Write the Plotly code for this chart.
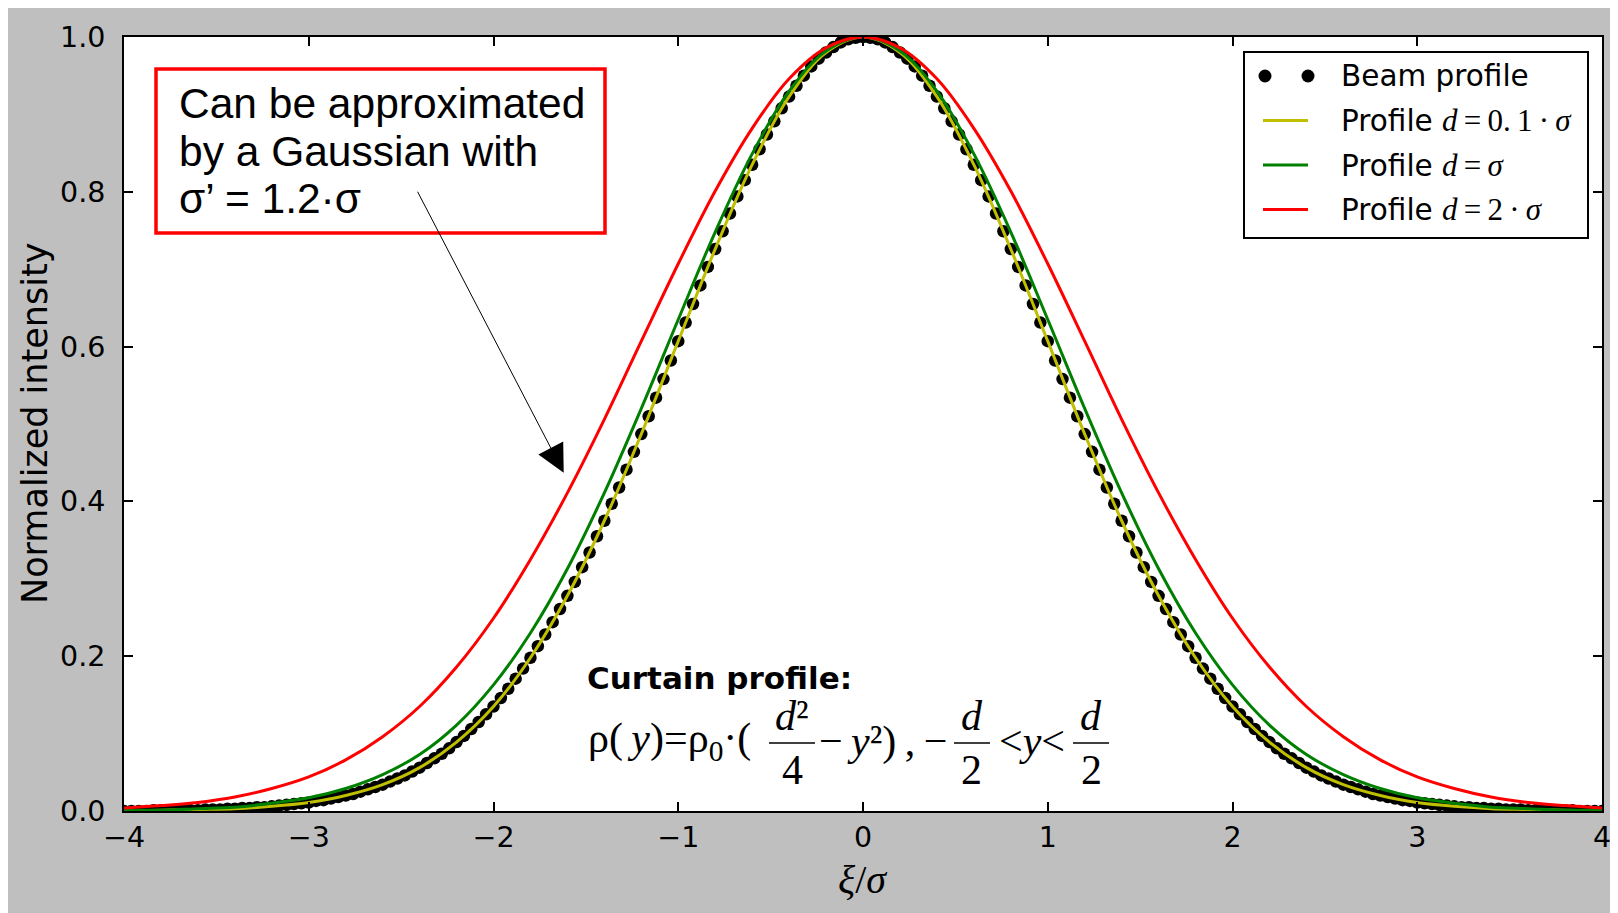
import numpy as np
import plotly.graph_objects as go

# ---------------- data ----------------
x_ticks = [-4, -3, -2, -1, 0, 1, 2, 3, 4]
y_ticks = [0.0, 0.2, 0.4, 0.6, 0.8, 1.0]

# Beam profile dots, x from -4 to 4 in steps of 0.04
beam_profile = [
    0.000, 0.000, 0.000, 0.000, 0.001, 0.001, 0.001, 0.001, 0.001, 0.001, 0.001,
    0.002, 0.002, 0.002, 0.003, 0.003, 0.004, 0.004, 0.005, 0.005, 0.006,
    0.007, 0.008, 0.009, 0.010, 0.011, 0.013, 0.014, 0.016, 0.018, 0.020,
    0.022, 0.025, 0.028, 0.031, 0.034, 0.038, 0.042, 0.046, 0.051, 0.056,
    0.062, 0.068, 0.074, 0.081, 0.089, 0.097, 0.106, 0.115, 0.125, 0.135,
    0.146, 0.158, 0.171, 0.184, 0.198, 0.213, 0.228, 0.244, 0.261, 0.278,
    0.296, 0.315, 0.334, 0.355, 0.375, 0.397, 0.418, 0.441, 0.464, 0.487,
    0.510, 0.534, 0.558, 0.582, 0.607, 0.631, 0.655, 0.679, 0.703, 0.726,
    0.749, 0.772, 0.794, 0.815, 0.835, 0.855, 0.874, 0.891, 0.908, 0.923,
    0.937, 0.950, 0.962, 0.972, 0.980, 0.987, 0.993, 0.997, 0.999,
    1.000,
    0.999, 0.997, 0.993, 0.987, 0.980, 0.972, 0.962, 0.950, 0.937,
    0.923, 0.908, 0.891, 0.874, 0.855, 0.835, 0.815, 0.794, 0.772, 0.749,
    0.726, 0.703, 0.679, 0.655, 0.631, 0.607, 0.582, 0.558, 0.534, 0.510,
    0.487, 0.464, 0.441, 0.418, 0.397, 0.375, 0.355, 0.334, 0.315, 0.296,
    0.278, 0.261, 0.244, 0.228, 0.213, 0.198, 0.184, 0.171, 0.158, 0.146,
    0.135, 0.125, 0.115, 0.106, 0.097, 0.089, 0.081, 0.074, 0.068, 0.062,
    0.056, 0.051, 0.046, 0.042, 0.038, 0.034, 0.031, 0.028, 0.025, 0.022,
    0.020, 0.018, 0.016, 0.014, 0.013, 0.011, 0.010, 0.009, 0.008, 0.007,
    0.006, 0.005, 0.005, 0.004, 0.004, 0.003, 0.003, 0.002, 0.002, 0.002,
    0.001, 0.001, 0.001, 0.001, 0.001, 0.001, 0.001, 0.000, 0.000, 0.000, 0.000,
]

# Profile curves, x from -4 to 4 in steps of 0.2
profile_d01 = [
    0.000, 0.001, 0.002, 0.003, 0.006, 0.011, 0.020, 0.034, 0.056, 0.089,
    0.135, 0.198, 0.278, 0.375, 0.487, 0.607, 0.726, 0.835, 0.923, 0.980,
    1.000,
    0.980, 0.923, 0.835, 0.726, 0.607, 0.487, 0.375, 0.278, 0.198, 0.135,
    0.089, 0.056, 0.034, 0.020, 0.011, 0.006, 0.003, 0.002, 0.001, 0.000,
]
profile_d1 = [
    0.001, 0.001, 0.003, 0.005, 0.010, 0.017, 0.029, 0.047, 0.073, 0.111,
    0.163, 0.230, 0.313, 0.411, 0.520, 0.635, 0.748, 0.849, 0.930, 0.982,
    1.000,
    0.982, 0.930, 0.849, 0.748, 0.635, 0.520, 0.411, 0.313, 0.230, 0.163,
    0.111, 0.073, 0.047, 0.029, 0.017, 0.010, 0.005, 0.003, 0.001, 0.001,
]
profile_d2 = [
    0.004, 0.007, 0.011, 0.018, 0.029, 0.044, 0.066, 0.096, 0.135, 0.186,
    0.249, 0.325, 0.411, 0.506, 0.607, 0.707, 0.801, 0.882, 0.946, 0.986,
    1.000,
    0.986, 0.946, 0.882, 0.801, 0.707, 0.607, 0.506, 0.411, 0.325, 0.249,
    0.186, 0.135, 0.096, 0.066, 0.044, 0.029, 0.018, 0.011, 0.007, 0.004,
]

legend_labels = ["Beam profile", "Profile", "Profile", "Profile"]
legend_math = ["", "<i>d</i>\u2009=\u20090.\u20091\u2009·\u2009<i>σ</i>",
               "<i>d</i>\u2009=\u2009<i>σ</i>", "<i>d</i>\u2009=\u20092\u2009·\u2009<i>σ</i>"]

beam_x = np.linspace(-4, 4, len(beam_profile))
prof_x = np.linspace(-4, 4, len(profile_d01))

# ---------------- layout geometry ----------------
W, H = 1618, 913
OFF = 8  # page body margin
L, R, T, B = 116, 24, 29, 110
PW, PH = W - L - R, H - T - B


def px(x):
    return (x - OFF - L) / PW


def py(y):
    return (H - B - (y - OFF)) / PH


YEL, GRN, RED = "#bfbf00", "#008000", "#ff0000"
SANS = "DejaVu Sans"
SERIF = "Liberation Serif"

fig = go.Figure()
fig.add_trace(go.Scatter(x=beam_x, y=beam_profile, mode="markers",
                         marker=dict(color="black", size=12.5, line=dict(width=0)),
                         showlegend=False, hoverinfo="skip"))
for ys, col in [(profile_d01, YEL), (profile_d1, GRN), (profile_d2, RED)]:
    fig.add_trace(go.Scatter(x=prof_x, y=ys, mode="lines",
                             line=dict(color=col, width=3, shape="spline", smoothing=1),
                             showlegend=False, hoverinfo="skip"))

axis_common = dict(ticks="inside", ticklen=9, tickwidth=1.5, tickcolor="black",
                   showline=True, linewidth=1.8, linecolor="black", mirror="ticks",
                   showgrid=False, zeroline=False,
                   tickfont=dict(family=SANS, size=28.5, color="black"))

fig.update_layout(
    width=W, height=H, margin=dict(l=L, r=R, t=T, b=B),
    paper_bgcolor="#bfbfbf", plot_bgcolor="white", showlegend=False,
    xaxis=dict(range=[-4, 4], tickvals=x_ticks, ticklabelstandoff=0, **axis_common),
    yaxis=dict(range=[0, 1], tickvals=y_ticks, tickformat=".1f", ticklabelstandoff=11,
               **axis_common),
)

shapes = []
annotations = []

# axis titles
annotations.append(dict(xref="paper", yref="paper", x=px(35), y=py(424),
                        text="Normalized intensity", textangle=-90, showarrow=False,
                        font=dict(family=SANS, size=35, color="black"),
                        xanchor="center", yanchor="middle"))
annotations.append(dict(xref="paper", yref="paper", x=px(862), y=py(879),
                        text="<i>ξ</i>/<i>σ</i>", showarrow=False,
                        font=dict(family=SERIF, size=40, color="black"),
                        xanchor="center", yanchor="middle"))

# legend box
shapes.append(dict(type="rect", xref="paper", yref="paper",
                   x0=px(1244), x1=px(1588), y0=py(238), y1=py(52),
                   line=dict(color="black", width=2), fillcolor="white", layer="above"))
rows_y = [76, 120.5, 165, 209.5]
for cx in (1265, 1308):
    shapes.append(dict(type="circle", xref="paper", yref="paper",
                       x0=px(cx - 6.5), x1=px(cx + 6.5),
                       y0=py(rows_y[0] + 6.5), y1=py(rows_y[0] - 6.5),
                       fillcolor="black", line=dict(width=0), layer="above"))
for ry, col in zip(rows_y[1:], [YEL, GRN, RED]):
    shapes.append(dict(type="line", xref="paper", yref="paper",
                       x0=px(1263), x1=px(1308), y0=py(ry), y1=py(ry),
                       line=dict(color=col, width=3), layer="above"))
for ry, lab, m in zip(rows_y, legend_labels, legend_math):
    txt = lab if not m else (f"{lab} <span style=\"font-family:{SERIF};font-size:31px\">"
                             f"{m}</span>")
    annotations.append(dict(xref="paper", yref="paper", x=px(1339), y=py(ry),
                            text=txt, showarrow=False, xanchor="left", yanchor="middle",
                            font=dict(family=SANS, size=29.5, color="black")))

# red annotation box
shapes.append(dict(type="rect", xref="paper", yref="paper",
                   x0=px(156), x1=px(605), y0=py(233), y1=py(69),
                   line=dict(color="#ff0000", width=3.5), fillcolor="white", layer="above"))
box_lines = ["Can be approximated", "by a Gaussian with", "σ’ = 1.2·σ"]
for ly, t in zip([103.5, 151.5, 198.5], box_lines):
    annotations.append(dict(xref="paper", yref="paper", x=px(177), y=py(ly), text=t,
                            showarrow=False, xanchor="left", yanchor="middle",
                            font=dict(family="Liberation Sans", size=42.5, color="black")))

# arrow
annotations.append(dict(x=-1.62, y=0.437, xref="x", yref="y",
                        ax=-2.415, ay=0.802, axref="x", ayref="y",
                        text="", showarrow=True, arrowhead=2, arrowsize=5.6,
                        arrowwidth=1, arrowcolor="black"))

# curtain profile text
annotations.append(dict(xref="paper", yref="paper", x=px(585), y=py(678),
                        text="<b>Curtain profile:</b>", showarrow=False,
                        xanchor="left", yanchor="middle",
                        font=dict(family=SANS, size=31, color="black")))

FS = 42
main_y, bar_y, num_y, den_y = 741, 743, 716, 770
ff = dict(family=SERIF, size=FS, color="black")


def ann(xc, yc, text, anchor="center"):
    annotations.append(dict(xref="paper", yref="paper", x=px(xc), y=py(yc), text=text,
                            showarrow=False, xanchor=anchor, yanchor="middle", font=ff))


ann(586, main_y, "ρ(\u2009<i>y</i>)=ρ<sub>0</sub>·(\u2009", "left")
fracs = [(792, 46, "<i>d</i>²", "4"),
         (972, 36, "<i>d</i>", "2"),
         (1091, 36, "<i>d</i>", "2")]
for cx, wdt, num, den in fracs:
    ann(cx, num_y, num)
    ann(cx, den_y, den)
    shapes.append(dict(type="line", xref="paper", yref="paper",
                       x0=px(cx - wdt / 2), x1=px(cx + wdt / 2), y0=py(bar_y), y1=py(bar_y),
                       line=dict(color="black", width=1.5), layer="above"))
ann(817, main_y, "−\u2009<i>y</i>²)\u2009,\u2009−", "left")
ann(1032, main_y, "<<i>y</i><")

fig.update_layout(shapes=shapes, annotations=annotations)
fig.write_html("out.html")
